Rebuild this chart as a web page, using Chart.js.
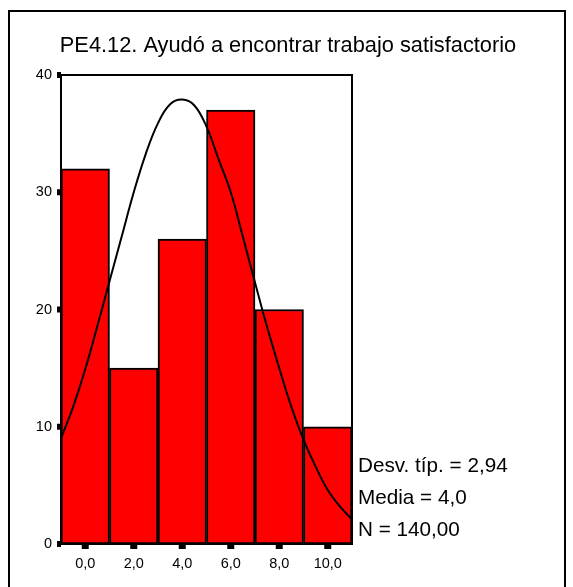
<!DOCTYPE html>
<html>
<head>
<meta charset="utf-8">
<script src="https://cdn.jsdelivr.net/npm/chart.js@4/dist/chart.umd.min.js"></script>
<style>
  html, body { margin: 0; padding: 0; background: #ffffff; }
  #wrap { width: 573px; height: 587px; position: relative; }
</style>
</head>
<body>
<div id="wrap"><canvas id="c" width="573" height="587"></canvas></div>
<script>
// ---- data ----
const titleText = "PE4.12. Ayudó a encontrar trabajo satisfactorio";
const binCenters = [0, 2, 4, 6, 8, 10];
const binLabels = ["0,0", "2,0", "4,0", "6,0", "8,0", "10,0"];
const frequencies = [32, 15, 26, 37, 20, 10];
const curveX = [-1, -0.5, 0, 0.5, 1, 1.5, 2, 2.5, 3, 3.5, 4, 4.5, 5, 5.5, 6, 6.5, 7, 7.5, 8, 8.5, 9, 9.5, 10, 10.5, 11];
const curveY = [9.0, 11.7, 14.9, 18.6, 22.4, 26.2, 30.0, 33.3, 35.9, 37.5, 37.9, 37.4, 35.6, 32.8, 30.0, 26.2, 22.3, 18.5, 15.0, 11.7, 8.9, 6.6, 4.6, 3.2, 2.1];
const yTicks = [0, 10, 20, 30, 40];
const statsLines = ["Desv. típ. = 2,94", "Media = 4,0", "N = 140,00"];

const FONT = "'Liberation Sans', Arial, sans-serif";

const barData = binCenters.map((x, i) => ({ x: x, y: frequencies[i] }));
const curveData = curveX.map((x, i) => ({ x: x, y: curveY[i] }));

const decorPlugin = {
  id: 'decor',
  beforeDraw(chart) {
    const ctx = chart.ctx;
    ctx.save();
    ctx.fillStyle = '#ffffff';
    ctx.fillRect(0, 0, chart.width, chart.height);
    ctx.restore();
  },
  afterDraw(chart) {
    const ctx = chart.ctx;
    const a = chart.chartArea;
    const xs = chart.scales.x, ys = chart.scales.y;
    ctx.save();
    // outer frame
    ctx.strokeStyle = '#000';
    ctx.lineWidth = 2;
    ctx.beginPath();
    ctx.moveTo(9, 600);
    ctx.lineTo(9, 11);
    ctx.lineTo(565, 11);
    ctx.lineTo(565, 600);
    ctx.stroke();
    // plot frame
    ctx.lineWidth = 2;
    ctx.strokeRect(a.left, a.top, a.right - a.left, a.bottom - a.top);
    // y tick marks
    ctx.fillStyle = '#000';
    yTicks.forEach(v => {
      const py = ys.getPixelForValue(v);
      ctx.fillRect(a.left - 4, py - 3, 4, 6);
    });
    // x tick marks
    binCenters.forEach(v => {
      const px = xs.getPixelForValue(v);
      ctx.fillRect(px - 3.5, a.bottom + 1, 7, 4);
    });
    // title
    ctx.font = '21.8px ' + FONT;
    ctx.textAlign = 'center';
    ctx.textBaseline = 'middle';
    ctx.fillText(titleText, 288, 46);
    // stats text
    ctx.font = '20.7px ' + FONT;
    ctx.textAlign = 'left';
    const ys0 = [466, 498, 530];
    statsLines.forEach((t, i) => ctx.fillText(t, 358, ys0[i]));
    ctx.restore();
  }
};

new Chart(document.getElementById('c'), {
  data: {
    datasets: [
      {
        type: 'line',
        data: curveData,
        borderColor: '#000',
        borderWidth: 2,
        pointRadius: 0,
        tension: 0.4,
        fill: false,
        order: 0
      },
      {
        type: 'bar',
        data: barData,
        backgroundColor: '#ff0000',
        borderColor: '#000',
        borderWidth: 2,
        borderSkipped: false,
        barPercentage: 1,
        categoryPercentage: 1,
        order: 1
      }
    ]
  },
  options: {
    responsive: false,
    animation: false,
    devicePixelRatio: 1,
    layout: { padding: { left: 0, top: 75, right: 221, bottom: 0 } },
    plugins: { legend: { display: false }, title: { display: false }, tooltip: { enabled: false } },
    scales: {
      x: {
        type: 'linear',
        min: -1,
        max: 11,
        offset: false,
        afterBuildTicks: (s) => { s.ticks = binCenters.map(v => ({ value: v })); },
        afterFit: (s) => { s.height = 43; },
        grid: { display: false, drawTicks: false },
        border: { display: false },
        ticks: {
          color: '#000',
          font: { family: FONT, size: 14.5 },
          padding: 11,
          maxRotation: 0,
          autoSkip: false,
          callback: (v) => { const i = binCenters.indexOf(v); return i >= 0 ? binLabels[i] : ''; }
        }
      },
      y: {
        type: 'linear',
        min: 0,
        max: 40,
        afterBuildTicks: (s) => { s.ticks = yTicks.map(v => ({ value: v })); },
        afterFit: (s) => { s.width = 61; },
        grid: { display: false, drawTicks: false },
        border: { display: false },
        ticks: {
          color: '#000',
          font: { family: FONT, size: 14.5 },
          padding: 9
        }
      }
    }
  },
  plugins: [decorPlugin]
});
</script>
</body>
</html>
